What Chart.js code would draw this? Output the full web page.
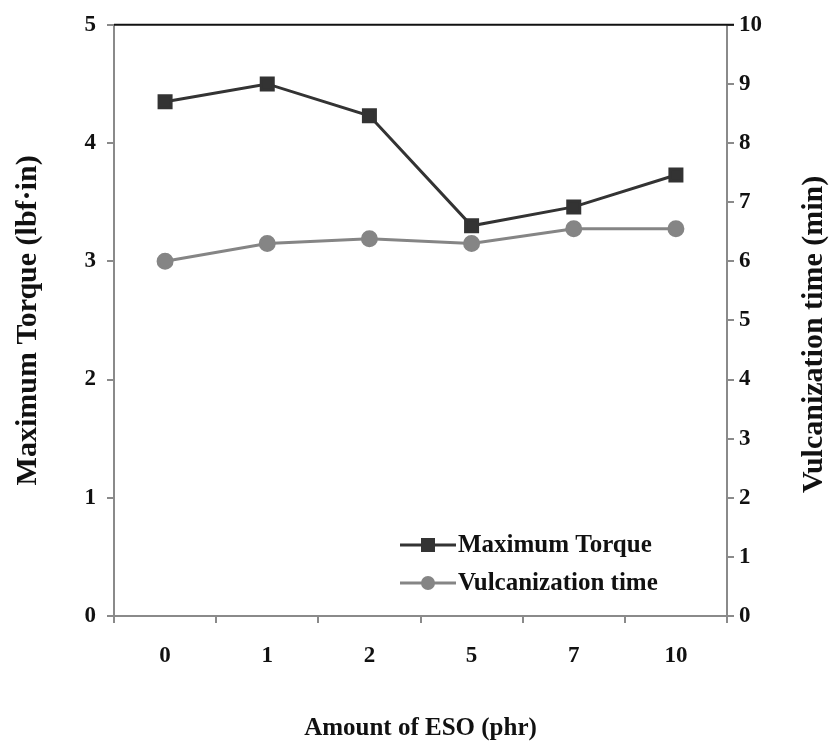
<!DOCTYPE html>
<html>
<head>
<meta charset="utf-8">
<script src="https://cdn.jsdelivr.net/npm/chart.js@4.4.1/dist/chart.umd.min.js"></script>
<style>
html,body{margin:0;padding:0;background:#fff;}
canvas{display:block;}
</style>
</head>
<body>
<canvas id="c" width="836" height="746"></canvas>
<script>
const categories = ['0', '1', '2', '5', '7', '10'];
const maxTorque = [4.35, 4.50, 4.23, 3.30, 3.46, 3.73];
const vulcTime = [6.00, 6.30, 6.38, 6.30, 6.55, 6.55];
const leftTicks = [0, 1, 2, 3, 4, 5];
const rightTicks = [0, 1, 2, 3, 4, 5, 6, 7, 8, 9, 10];
const rightTitle = 'Vulcanization time (min)';

const FONT = '"Liberation Serif", "Times New Roman", serif';
const AXIS_GREY = '#8a8a8a';

const topBorder = {
  id: 'topBorder',
  afterDraw(chart) {
    const {ctx, chartArea} = chart;
    ctx.save();
    ctx.strokeStyle = '#111';
    ctx.lineWidth = 2;
    ctx.beginPath();
    ctx.moveTo(chartArea.left, chartArea.top);
    ctx.lineTo(chartArea.right + 7, chartArea.top);
    ctx.stroke();
    ctx.restore();
  }
};

// right axis title reads bottom-to-top like the left one
const rightTitlePlugin = {
  id: 'rightTitlePlugin',
  afterDraw(chart) {
    const {ctx, chartArea} = chart;
    const s = chart.scales.y2;
    ctx.save();
    ctx.translate(s.right - 22, (chartArea.top + chartArea.bottom) / 2 + 14);
    ctx.rotate(-Math.PI / 2);
    ctx.fillStyle = '#111';
    ctx.font = 'bold 30px ' + FONT;
    ctx.textAlign = 'center';
    ctx.textBaseline = 'middle';
    ctx.fillText(rightTitle, 0, 0);
    ctx.restore();
  }
};

const innerLegend = {
  id: 'innerLegend',
  afterDraw(chart) {
    const {ctx} = chart;
    const x0 = 400, x1 = 456, ys = [545, 583];
    ctx.save();
    chart.data.datasets.forEach((ds, i) => {
      const y = ys[i];
      ctx.strokeStyle = ds.borderColor;
      ctx.lineWidth = ds.borderWidth;
      ctx.beginPath();
      ctx.moveTo(x0, y);
      ctx.lineTo(x1, y);
      ctx.stroke();
      ctx.fillStyle = ds.pointBackgroundColor;
      if (ds.pointStyle === 'rect') {
        ctx.fillRect((x0 + x1) / 2 - 7, y - 7, 14, 14);
      } else {
        ctx.beginPath();
        ctx.arc((x0 + x1) / 2, y, 7, 0, Math.PI * 2);
        ctx.fill();
      }
      ctx.fillStyle = '#111';
      ctx.font = 'bold 25px ' + FONT;
      ctx.textAlign = 'left';
      ctx.textBaseline = 'middle';
      ctx.fillText(ds.label, x1 + 2, y + 1);
    });
    ctx.restore();
  }
};

new Chart(document.getElementById('c'), {
  type: 'line',
  data: {
    labels: categories,
    datasets: [
      {
        label: 'Maximum Torque',
        data: maxTorque,
        yAxisID: 'y',
        borderColor: '#333333',
        backgroundColor: '#333333',
        pointBackgroundColor: '#333333',
        pointBorderColor: '#333333',
        pointStyle: 'rect',
        pointRadius: 8.5,
        borderWidth: 3,
        tension: 0
      },
      {
        label: 'Vulcanization time',
        data: vulcTime,
        yAxisID: 'y2',
        borderColor: '#858585',
        backgroundColor: '#858585',
        pointBackgroundColor: '#858585',
        pointBorderColor: '#858585',
        pointStyle: 'circle',
        pointRadius: 7,
        borderWidth: 3,
        tension: 0
      }
    ]
  },
  options: {
    responsive: false,
    animation: false,
    layout: {padding: {top: 20, left: 0, right: 0, bottom: 0}},
    plugins: {legend: {display: false}, tooltip: {enabled: false}},
    scales: {
      x: {
        type: 'category',
        offset: true,
        afterFit(s) { s.height = 130; },
        grid: {offset: true, drawOnChartArea: false, drawTicks: true, tickLength: 7, color: AXIS_GREY, lineWidth: 2},
        border: {display: true, color: AXIS_GREY, width: 2},
        ticks: {color: '#111', font: {family: FONT, size: 23, weight: 'bold'}, padding: 19, maxRotation: 0},
        title: {display: true, text: 'Amount of ESO (phr)', color: '#111', font: {family: FONT, size: 25, weight: 'bold'}, padding: {top: 2, bottom: 2}}
      },
      y: {
        position: 'left',
        min: 0, max: 5,
        afterFit(s) { s.width = 114; },
        afterBuildTicks(s) { s.ticks = leftTicks.map(v => ({value: v})); },
        grid: {drawOnChartArea: false, drawTicks: true, tickLength: 7, color: AXIS_GREY, lineWidth: 2},
        border: {display: true, color: AXIS_GREY, width: 2},
        ticks: {color: '#111', font: {family: FONT, size: 23, weight: 'bold'}, padding: 11},
        title: {display: true, text: 'Maximum Torque (lbf·in)', color: '#111', font: {family: FONT, size: 30, weight: 'bold'}, padding: {top: 10, bottom: 2}}
      },
      y2: {
        position: 'right',
        min: 0, max: 10,
        afterFit(s) { s.width = 109; },
        afterBuildTicks(s) { s.ticks = rightTicks.map(v => ({value: v})); },
        grid: {drawOnChartArea: false, drawTicks: true, tickLength: 7, color: AXIS_GREY, lineWidth: 2},
        border: {display: true, color: AXIS_GREY, width: 2},
        ticks: {color: '#111', font: {family: FONT, size: 23, weight: 'bold'}, padding: 5},
        title: {display: false, text: rightTitle}
      }
    }
  },
  plugins: [topBorder, rightTitlePlugin, innerLegend]
});
</script>
</body>
</html>
